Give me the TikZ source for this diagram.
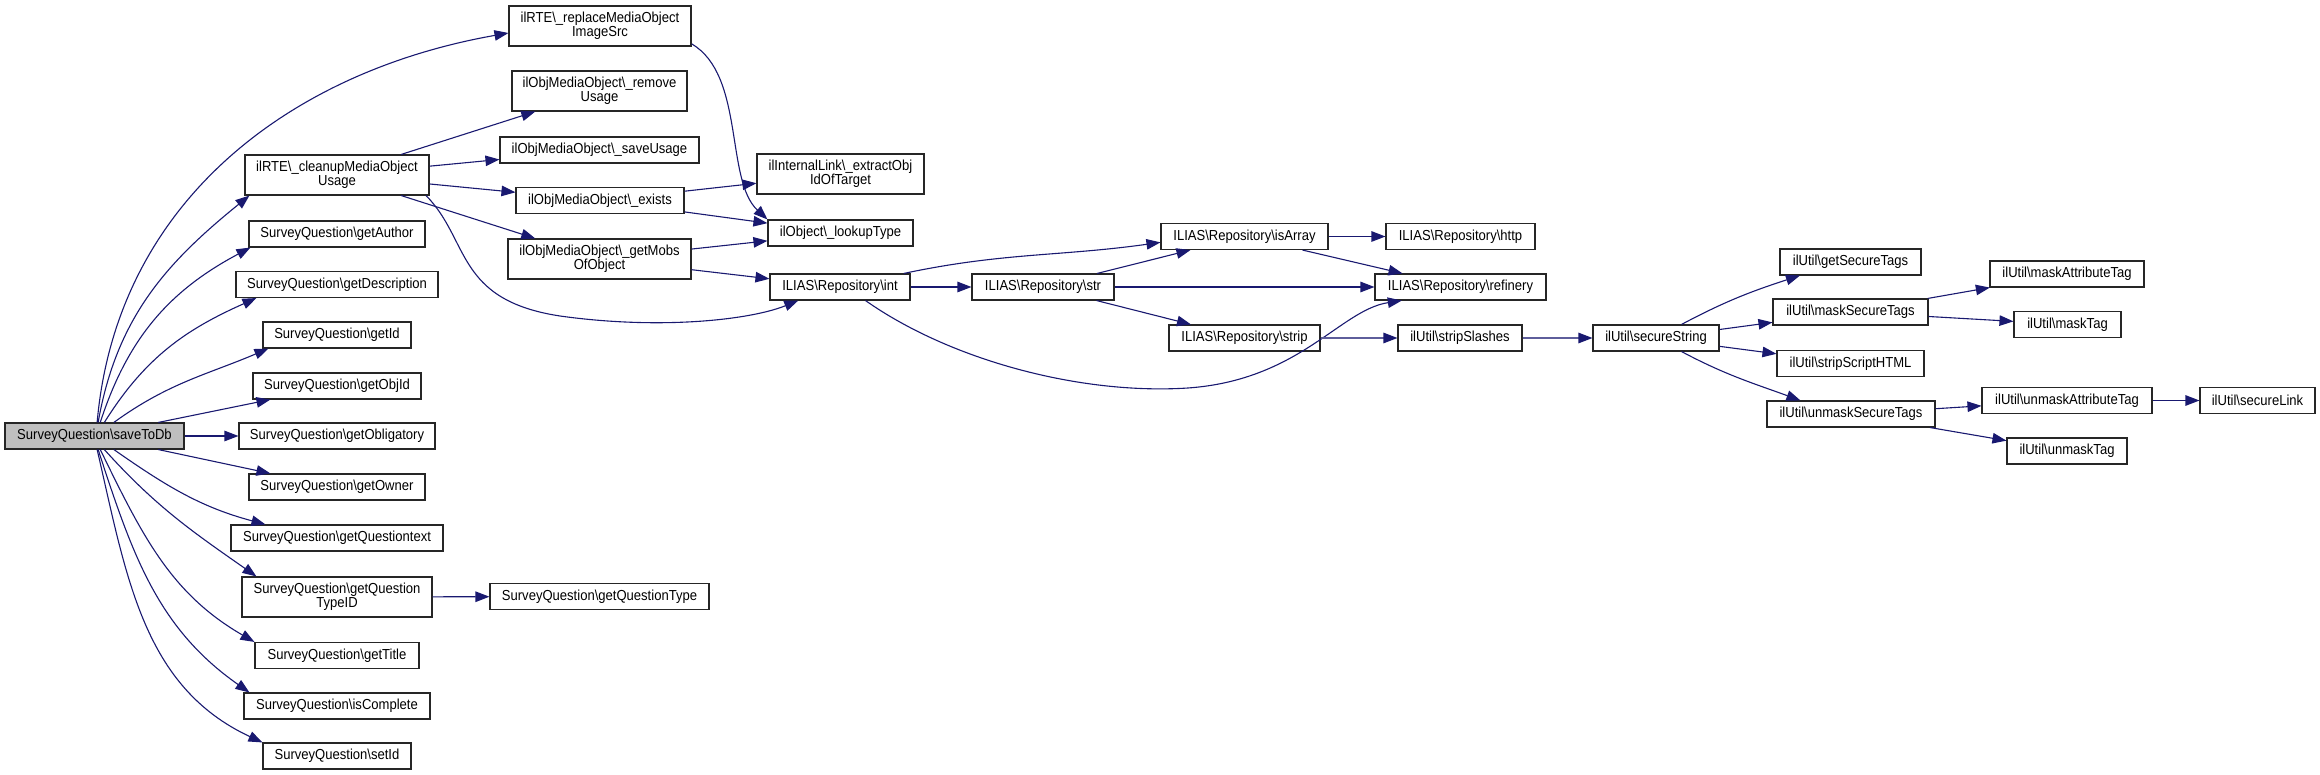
\documentclass[tikz,border=0pt]{standalone}
\usepackage{fontspec}
\setmainfont{Liberation Sans}[FakeStretch=0.9]
\usetikzlibrary{arrows.meta}
\definecolor{callblue}{HTML}{191970}
\newcommand{\bsl}{\textbackslash}

\begin{document}
\begin{tikzpicture}[x=1pt,y=-1pt]
        \useasboundingbox (0,0) rectangle (2320,775);
        \tikzstyle{every node}=[draw=black!85, line width=1.1pt, inner sep=1pt, align=center,
                                minimum height=26pt, font=\fontsize{14.5}{14.3}\selectfont]
        \tikzstyle{two}=[minimum height=40pt]
        \tikzstyle{call}=[draw=callblue, line width=1.1pt, -{Triangle[length=14pt,width=10.5pt,color=callblue]}]
        % caller
        \node[fill=gray!50, minimum width=179pt] (save) at (94.5,436) {SurveyQuestion\bsl{}saveToDb};
        % direct callees
        \node[two, minimum width=184pt] (cleanup)  at (337,175)   {ilRTE\bsl\_cleanupMediaObject\\Usage};
        \node[minimum width=176pt]      (author)   at (337,234)   {SurveyQuestion\bsl{}getAuthor};
        \node[minimum width=202pt]      (descr)    at (337,284.5) {SurveyQuestion\bsl{}getDescription};
        \node[minimum width=148pt]      (getid)    at (337,335)   {SurveyQuestion\bsl{}getId};
        \node[minimum width=168pt]      (objid)    at (337,386)   {SurveyQuestion\bsl{}getObjId};
        \node[minimum width=196pt]      (oblig)    at (337,436)   {SurveyQuestion\bsl{}getObligatory};
        \node[minimum width=176pt]      (owner)    at (337,487)   {SurveyQuestion\bsl{}getOwner};
        \node[minimum width=212pt]      (qtext)    at (337,538)   {SurveyQuestion\bsl{}getQuestiontext};
        \node[two, minimum width=190pt] (qtypeid)  at (337,597)   {SurveyQuestion\bsl{}getQuestion\\TypeID};
        \node[minimum width=164pt]      (title)    at (337,655.5) {SurveyQuestion\bsl{}getTitle};
        \node[minimum width=186pt]      (complete) at (337,706)   {SurveyQuestion\bsl{}isComplete};
        \node[minimum width=148pt]      (setid)    at (337,756)   {SurveyQuestion\bsl{}setId};
        % media objects
        \node[two, minimum width=182pt] (replace)  at (600,26)    {ilRTE\bsl\_replaceMediaObject\\ImageSrc};
        \node[two, minimum width=175pt] (remove)   at (599.5,91)  {ilObjMediaObject\bsl\_remove\\Usage};
        \node[minimum width=199pt]      (saveusage) at (599.5,150) {ilObjMediaObject\bsl\_saveUsage};
        \node[minimum width=168pt]      (exists)   at (600,200.5) {ilObjMediaObject\bsl\_exists};
        \node[two, minimum width=183pt] (getmobs)  at (599.5,259) {ilObjMediaObject\bsl\_getMobs\\OfObject};
        \node[minimum width=219pt]      (qtype)    at (599.5,596.5) {SurveyQuestion\bsl{}getQuestionType};
        \node[two, minimum width=167pt] (extract)  at (840.5,174) {ilInternalLink\bsl\_extractObj\\IdOfTarget};
        \node[minimum width=145pt]      (lookup)   at (840.5,233) {ilObject\bsl\_lookupType};
        % repository
        \node[minimum width=140pt]      (int)      at (840,287)    {ILIAS\bsl{}Repository\bsl{}int};
        \node[minimum width=142pt]      (str)      at (1043,287)   {ILIAS\bsl{}Repository\bsl{}str};
        \node[minimum width=167pt]      (isarray)  at (1244.5,236.5) {ILIAS\bsl{}Repository\bsl{}isArray};
        \node[minimum width=151pt]      (strip)    at (1244.5,338) {ILIAS\bsl{}Repository\bsl{}strip};
        \node[minimum width=149pt]      (http)     at (1460.5,236.5) {ILIAS\bsl{}Repository\bsl{}http};
        \node[minimum width=171pt]      (refinery) at (1460.5,287) {ILIAS\bsl{}Repository\bsl{}refinery};
        % ilUtil
        \node[minimum width=124pt]      (stripslashes) at (1460,338) {ilUtil\bsl{}stripSlashes};
        \node[minimum width=126pt]      (securestring) at (1656,338) {ilUtil\bsl{}secureString};
        \node[minimum width=141pt]      (getsecure)    at (1850.5,262) {ilUtil\bsl{}getSecureTags};
        \node[minimum width=155pt]      (masksecure)   at (1850.5,312) {ilUtil\bsl{}maskSecureTags};
        \node[minimum width=147pt]      (stripscript)  at (1850.5,363.5) {ilUtil\bsl{}stripScriptHTML};
        \node[minimum width=168pt]      (unmasksecure) at (1851,414) {ilUtil\bsl{}unmaskSecureTags};
        \node[minimum width=154pt]      (maskattr)     at (2067,274) {ilUtil\bsl{}maskAttributeTag};
        \node[minimum width=107pt]      (masktag)      at (2067.5,324.5) {ilUtil\bsl{}maskTag};
        \node[minimum width=170pt]      (unmaskattr)   at (2067,400.5) {ilUtil\bsl{}unmaskAttributeTag};
        \node[minimum width=120pt]      (unmasktag)    at (2067,451) {ilUtil\bsl{}unmaskTag};
        \node[minimum width=115pt]      (securelink)   at (2257.5,400.5) {ilUtil\bsl{}secureLink};
        \tikzstyle{every node}=[draw=none]
        % calls from saveToDb
        \draw[call] (save.79) to[out=85,in=190] ([yshift=-7pt]replace.west);
        \draw[call] (save.75) to[out=80,in=219] ([xshift=5pt]cleanup.south west);
        \draw[call] (save.67) to[out=72,in=208] ([xshift=2pt]author.south west);
        \draw[call] (save.54) to[out=58,in=204] ([xshift=21pt]descr.south west);
        \draw[call] (save.35) to[out=36,in=203] ([xshift=6pt]getid.south west);
        \draw[call] (save.12) -- ([xshift=18pt]objid.south west);
        \draw[call] (save) -- (oblig);
        \draw[call] (save.-12) -- ([xshift=22pt]owner.north west);
        \draw[call] (save.-35) to[out=-35,in=165] ([xshift=35pt]qtext.north west);
        \draw[call] (save.-54) to[out=-48,in=145] ([xshift=15pt]qtypeid.north west);
        \draw[call] (save.-67) to[out=-64,in=150] (title.north west);
        \draw[call] (save.-75) to[out=-72,in=145] ([xshift=6pt]complete.north west);
        \draw[call] (save.-79) to[out=-77,in=155] (setid.north west);
        % media objects
        \draw[call] (cleanup) -- (remove);
        \draw[call] (cleanup) -- (saveusage);
        \draw[call] (cleanup) -- (exists);
        \draw[call] (cleanup) -- (getmobs);
        \draw[call] (cleanup.-13) .. controls (470,240) and (455,300) .. (560,316)
                    .. controls (660,330) and (750,320) .. (int.198);
        \draw[call] (replace.-11) .. controls (745,75) and (725,180) .. (lookup.north west);
        \draw[call] (exists) -- (extract);
        \draw[call] (exists) -- (lookup);
        \draw[call] (getmobs) -- (lookup);
        \draw[call] (getmobs) -- (int);
        \draw[call] (qtypeid) -- (qtype);
        % repository
        \draw[call] (int.12) to[out=12,in=188] (isarray.184);
        \draw[call] (int) -- (str);
        \draw[call] (int.-28) .. controls (950,360) and (1080,395) .. (1188,388)
                    .. controls (1300,380) and (1340,310) .. (refinery.193);
        \draw[call] (str) -- (isarray);
        \draw[call] (str) -- (refinery);
        \draw[call] (str) -- (strip);
        \draw[call] (isarray) -- (http);
        \draw[call] (isarray) -- (refinery);
        \draw[call, draw=callblue!70] (strip) -- (stripslashes);
        \draw[call, draw=callblue!70] (stripslashes) -- (securestring);
        % ilUtil
        \draw[call] (securestring.28) to[out=28,in=198] (getsecure.195);
        \draw[call] (securestring) -- (masksecure);
        \draw[call] (securestring) -- (stripscript);
        \draw[call] (securestring.-28) to[out=-28,in=160] (unmasksecure.165);
        \draw[call] (masksecure) -- (maskattr);
        \draw[call] (masksecure) -- (masktag);
        \draw[call] (unmasksecure) -- (unmaskattr);
        \draw[call] (unmasksecure) -- (unmasktag);
        \draw[call] (unmaskattr) -- (securelink);
\end{tikzpicture}
\end{document}
